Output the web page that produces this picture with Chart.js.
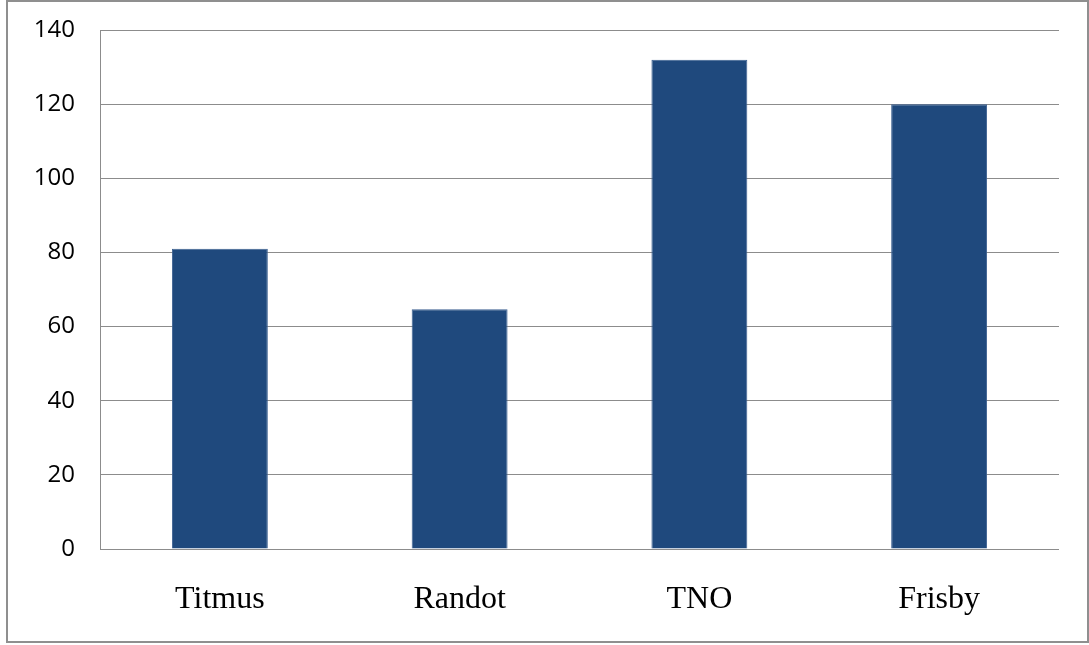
<!DOCTYPE html>
<html>
<head>
<meta charset="utf-8">
<script src="https://cdn.jsdelivr.net/npm/chart.js@4"></script>
<style>
  html, body { margin: 0; padding: 0; background: #fff; }
  #ramecek {
    position: absolute; left: 6px; top: 0; width: 1083px; height: 643px;
    box-sizing: border-box; border: 2px solid #8f8f8f;
  }
  #graf { position: absolute; left: 0; top: 0; }
</style>
</head>
<body>
<div id="ramecek"></div>
<canvas id="graf" width="1089" height="645"></canvas>
<script>
// testy stereopse a jejich hodnoty
let TESTY = ['Titmus', 'Randot', 'TNO', 'Frisby'];
let HODNOTY = [81, 64.7, 132, 120];
let OSA_Y_MAX = 140;
let OSA_Y_KROK = 20;

let ctx = document.getElementById('graf').getContext('2d');
let graf = new Chart(ctx, {
    type: 'bar',
    data: {
        labels: TESTY,
        datasets: [{
            data: HODNOTY,
            backgroundColor: '#1f497d',
            borderColor: '#3d6191',
            borderWidth: 1,
            barPercentage: 0.4,
            categoryPercentage: 1
        }]
    },
    options: {
        responsive: false,
        animation: false,
        layout: { padding: { top: 30, right: 30, bottom: 0, left: 0 } },
        plugins: { legend: { display: false }, tooltip: { enabled: false } },
        scales: {
            x: {
                grid: { display: false },
                border: { display: false },
                ticks: {
                    color: '#000',
                    padding: 23,
                    font: { family: '"Liberation Serif", "Times New Roman", serif', size: 32 }
                },
                afterFit: (osa) => { osa.height = 96; osa.paddingLeft = 0; osa.paddingRight = 0; }
            },
            y: {
                min: 0,
                max: OSA_Y_MAX,
                ticks: {
                    stepSize: OSA_Y_KROK,
                    color: '#000',
                    padding: 25,
                    font: { family: '"Open Sans", sans-serif', size: 24 }
                },
                grid: { color: '#8c8c8c', lineWidth: 1, drawTicks: false },
                border: { display: true, color: '#8c8c8c', width: 1 },
                afterFit: (osa) => { osa.width = 100; osa.paddingTop = 0; osa.paddingBottom = 0; }
            }
        }
    }
});
</script>
</body>
</html>
